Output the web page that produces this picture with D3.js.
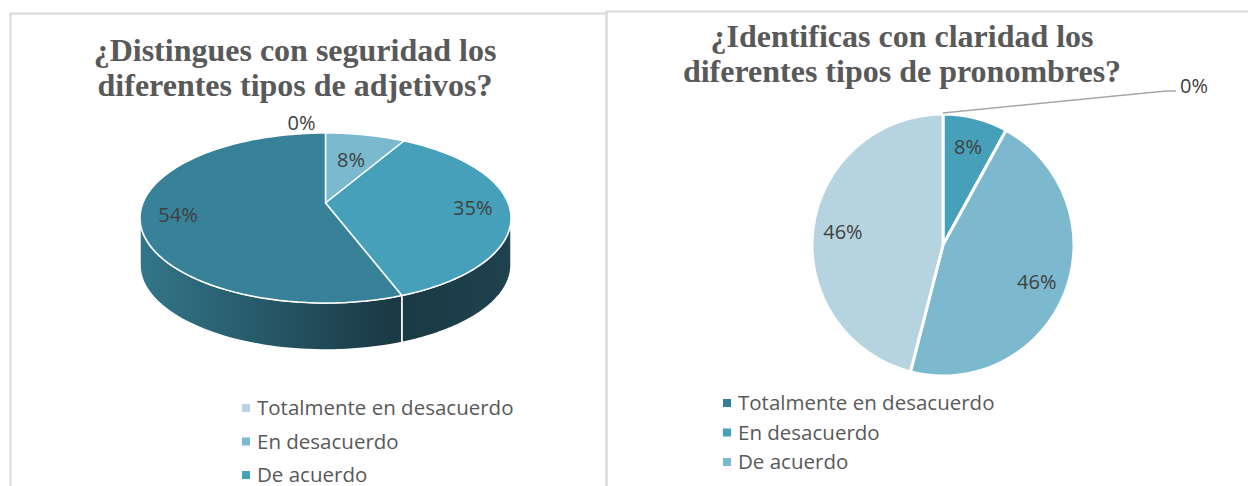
<!DOCTYPE html>
<html>
<head>
<meta charset="utf-8">
<script src="https://cdn.jsdelivr.net/npm/d3@7"></script>
<style>
  body { margin: 0; background: #fff; }
  svg { display: block; }
</style>
</head>
<body>
<div id="frame"></div>
<script>
const width = 1248
const height = 486

// data
const categories = ['Totalmente en desacuerdo', 'En desacuerdo', 'De acuerdo', 'Totalmente de acuerdo']
const adjetivosValues = [0, 8, 35, 54]
const pronombresValues = [0, 8, 46, 46]
const adjetivosTitle = ['¿Distingues con seguridad los', 'diferentes tipos de adjetivos?']
const pronombresTitle = ['¿Identificas con claridad los', 'diferentes tipos de pronombres?']
const adjetivosColors = ['#b6d5e0', '#7bb9ce', '#46a0b9', '#378299']
const pronombresColors = ['#367f98', '#46a0ba', '#7cb9ce', '#b6d4df']
const legendShown = 3 // the rest of the legend falls below the picture

const style = {
  frame: '#d9d9d9',
  title: { color: '#595959', font: '"Liberation Serif", "Times New Roman", serif', size: 32 },
  label: { color: '#404040', font: '"Open Sans", sans-serif', size: 20 },
  legend: { color: '#595959', font: '"Open Sans", sans-serif', size: 20.5 }
}

const svg = d3.select('#frame')
  .append('svg')
  .attr('width', width)
  .attr('height', height)

const defs = svg.append('defs')

// chart frames
svg.append('rect')
  .attr('x', 10.5).attr('y', 13.5)
  .attr('width', 596).attr('height', 500)
  .attr('fill', 'none').attr('stroke', style.frame).attr('stroke-width', 2)
svg.append('rect')
  .attr('x', 606.5).attr('y', 11.5)
  .attr('width', 700).attr('height', 500)
  .attr('fill', 'none').attr('stroke', style.frame).attr('stroke-width', 2)

function drawTitle(lines, cx, y0) {
  svg.append('text')
    .attr('fill', style.title.color)
    .style('font-family', style.title.font)
    .style('font-weight', 'bold')
    .style('font-size', `${style.title.size}px`)
    .attr('text-anchor', 'middle')
    .selectAll('tspan')
    .data(lines)
    .join('tspan')
    .attr('x', cx)
    .attr('y', (d, i) => y0 + i * 34.5)
    .text(d => d)
}

function drawLegend(colors, x, y0, step) {
  const g = svg.append('g')
  const items = g.selectAll('g')
    .data(categories.slice(0, legendShown))
    .join('g')
    .attr('transform', (d, i) => `translate(${x},${y0 + i * step})`)
  items.append('rect')
    .attr('x', 0).attr('y', -4)
    .attr('width', 8).attr('height', 8)
    .attr('fill', (d, i) => colors[i])
  items.append('text')
    .attr('x', 15)
    .attr('dy', '0.35em')
    .attr('fill', style.legend.color)
    .style('font-family', style.legend.font)
    .style('font-size', `${style.legend.size}px`)
    .text(d => d)
}

function pctLabel(v) {
  return `${v}%`
}

// ---- left: 3D pie, a disc seen in perspective ----
function draw3dPie() {
  const cx = 325.5
  const apexY = 203   // where the centre of the disc lands
  const backY = 133   // far rim
  const frontY = 303  // near rim
  const halfW = 185.5 // widest half-width of the rim
  const depth = 47

  // projective map of the unit disc: centre -> apex
  const c = ((frontY - apexY) - (apexY - backY)) / ((frontY - apexY) + (apexY - backY))
  const B = (apexY - backY) * (1 + c)
  const A = halfW * Math.sqrt(1 - c * c)
  const proj = (u, v, dy = 0) => {
    const w = 1 + c * v
    return [cx + A * u / w, apexY - B * v / w + dy]
  }
  const pt = (a, dy = 0) => proj(Math.sin(a), Math.cos(a), dy)

  // silhouette of the side wall
  const sideFrom = Math.acos(-c)
  const sideTo = 2 * Math.PI - sideFrom

  const arcs = d3.pie().sort(null).value(d => d)(adjetivosValues)
    .map((a, i) => Object.assign(a, { i }))

  const grad = defs.append('linearGradient')
    .attr('id', 'side')
    .attr('gradientUnits', 'userSpaceOnUse')
    .attr('x1', cx - halfW).attr('x2', cx + halfW)
    .attr('y1', 0).attr('y2', 0)
  grad.append('stop').attr('offset', 0).attr('stop-color', '#327689')
  grad.append('stop').attr('offset', 0.68).attr('stop-color', '#1a3944')
  grad.append('stop').attr('offset', 1).attr('stop-color', '#1e424e')

  const g = svg.append('g')
  const line = d3.line()

  // sides (front half only)
  arcs.forEach(a => {
    const s = Math.max(a.startAngle, sideFrom)
    const e = Math.min(a.endAngle, sideTo)
    if (e <= s) return
    const n = 60
    const top = d3.range(n + 1).map(k => pt(s + (e - s) * k / n))
    const bottom = d3.range(n + 1).map(k => pt(e - (e - s) * k / n, depth))
    g.append('path')
      .attr('d', line(top.concat(bottom)) + 'Z')
      .attr('fill', 'url(#side)')
      .attr('stroke', '#fff')
      .attr('stroke-width', 1.5)
  })

  // top faces
  arcs.forEach(a => {
    if (a.endAngle - a.startAngle <= 0) return
    const n = 80
    const pts = [proj(0, 0)].concat(d3.range(n + 1).map(k => pt(a.startAngle + (a.endAngle - a.startAngle) * k / n)))
    g.append('path')
      .attr('d', line(pts) + 'Z')
      .attr('fill', adjetivosColors[a.i])
      .attr('stroke', '#fff')
      .attr('stroke-width', 1.5)
      .attr('stroke-linejoin', 'round')
  })

  // labels
  arcs.forEach(a => {
    const mid = (a.startAngle + a.endAngle) / 2
    const t = g.append('text')
      .attr('fill', style.label.color)
      .style('font-family', style.label.font)
      .style('font-size', `${style.label.size}px`)
      .text(pctLabel(a.data))
    if (a.data === 0) {
      const [, ty] = pt(0)
      t.attr('x', cx - 10).attr('y', ty - 3).attr('text-anchor', 'end')
      return
    }
    const f = a.data > 20 ? 0.8 : 0.6
    const [lx, ly] = proj(f * Math.sin(mid), f * Math.cos(mid))
    t.attr('x', lx)
      .attr('y', ly)
      .attr('text-anchor', 'middle')
      .attr('dy', '0.35em')
  })
}

// ---- right: flat pie ----
function drawFlatPie() {
  const cx = 943
  const cy = 245
  const r = 131

  const arcs = d3.pie().sort(null).value(d => d)(pronombresValues)
  const arc = d3.arc().innerRadius(0).outerRadius(r)
  const labelArc = d3.arc().innerRadius(r * 0.77).outerRadius(r * 0.77)

  const g = svg.append('g').attr('transform', `translate(${cx},${cy})`)

  g.selectAll('path')
    .data(arcs)
    .join('path')
    .attr('d', arc)
    .attr('fill', (d, i) => pronombresColors[i])
    .attr('stroke', '#fff')
    .attr('stroke-width', 3)
    .attr('stroke-linejoin', 'round')

  g.selectAll('text.lbl')
    .data(arcs.filter(d => d.data > 0))
    .join('text')
    .attr('class', 'lbl')
    .attr('transform', d => `translate(${labelArc.centroid(d)})`)
    .attr('text-anchor', 'middle')
    .attr('dy', '0.35em')
    .attr('fill', style.label.color)
    .style('font-family', style.label.font)
    .style('font-size', `${style.label.size}px`)
    .text(d => pctLabel(d.data))

  // zero slice: leader line to an outside label
  arcs.filter(d => d.data === 0).forEach(d => {
    const [sx, sy] = [0, -r - 1]
    const lx = 1166 - cx
    const ly = 91 - cy
    g.append('path')
      .attr('d', d3.line()([[sx, sy], [lx, ly], [lx + 10, ly]]))
      .attr('fill', 'none')
      .attr('stroke', '#a6a6a6')
      .attr('stroke-width', 1.5)
    g.append('text')
      .attr('x', lx + 14)
      .attr('y', ly)
      .attr('dy', '0.1em')
      .attr('fill', style.label.color)
      .style('font-family', style.label.font)
      .style('font-size', `${style.label.size}px`)
      .text(pctLabel(d.data))
  })
}

drawTitle(adjetivosTitle, 295, 61)
drawTitle(pronombresTitle, 902, 47)
draw3dPie()
drawFlatPie()
drawLegend(adjetivosColors, 242, 408, 33.5)
drawLegend(pronombresColors, 723, 403, 29.5)
</script>
</body>
</html>
